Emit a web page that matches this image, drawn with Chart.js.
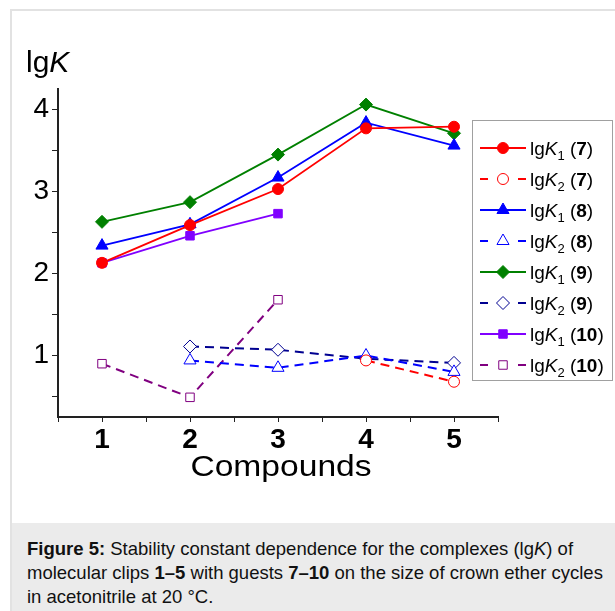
<!DOCTYPE html>
<html>
<head>
<meta charset="utf-8">
<script src="https://cdn.jsdelivr.net/npm/chart.js@4.4.0/dist/chart.umd.min.js"></script>
<style>
  html, body { margin: 0; padding: 0; background: #fff; }
  body { width: 615px; height: 611px; position: relative; overflow: hidden; font-family: 'Liberation Sans', Arial, sans-serif; }
  #frame { position: absolute; left: 10px; top: 9px; width: 640px; height: 640px; border-left: 2px solid #e2e2e2; border-top: 2px solid #e2e2e2; }
  #chartBox { position: absolute; left: 0; top: 0; width: 615px; height: 523px; }
  #caption { position: absolute; left: 12px; top: 523px; width: 603px; height: 88px; background: #ebebeb;
             box-sizing: border-box; padding: 14px 0 0 15px; font-size: 18.5px; line-height: 24px; color: #111; white-space: nowrap; }
</style>
</head>
<body>
<div id="frame"></div>
<div id="chartBox"><canvas id="chart" width="615" height="523"></canvas></div>
<div id="caption"><b>Figure 5:</b> Stability constant dependence for the complexes (lg<i>K</i>) of<br>molecular clips <b>1–5</b> with guests <b>7–10</b> on the size of crown ether cycles<br>in acetonitrile at 20 °C.</div>
<script>
// data (null = no point)
const compounds = [1, 2, 3, 4, 5];
const lgK1_7  = [2.13, 2.59, 3.03, 3.77, 3.79];
const lgK2_7  = [null, null, null, 0.94, 0.68];
const lgK1_8  = [2.34, 2.60, 3.17, 3.84, 3.56];
const lgK2_8  = [null, 0.94, 0.85, 1.00, 0.80];
const lgK1_9  = [2.63, 2.87, 3.45, 4.06, 3.71];
const lgK2_9  = [null, 1.11, 1.07, 0.96, 0.91];
const lgK1_10 = [2.13, 2.46, 2.73, null, null];
const lgK2_10 = [0.90, 0.49, 1.68, null, null];

const xTicks = [0.5, 1, 1.5, 2, 2.5, 3, 3.5, 4, 4.5, 5, 5.5];
const yTicks = [0.5, 1, 1.5, 2, 2.5, 3, 3.5, 4];

const legendSub   = ['1', '2', '1', '2', '1', '2', '1', '2'];
const legendGuest = ['7', '7', '8', '8', '9', '9', '10', '10'];

const FONT = "'Liberation Sans', Arial, sans-serif";

function points(values) {
    const out = [];
    values.forEach((v, i) => { if (v !== null) out.push({ x: compounds[i], y: v }); });
    return out;
}

function makeSet(values, color, solid, style, radius) {
    return {
        data: points(values),
        showLine: true,
        borderColor: color,
        borderWidth: solid ? 1.8 : 2,
        borderDash: solid ? [] : [9, 6],
        pointStyle: style,
        pointRadius: radius,
        pointBackgroundColor: solid ? color : '#fff',
        pointBorderColor: color,
        pointBorderWidth: 1,
        fill: false,
        tension: 0
    };
}

const datasets = [
    makeSet(lgK1_7,  '#ff0000', true,  'circle',   5.5),
    makeSet(lgK2_7,  '#ff0000', false, 'circle',   5.5),
    makeSet(lgK1_8,  '#0000ff', true,  'triangle', 7),
    makeSet(lgK2_8,  '#0000ff', false, 'triangle', 7),
    makeSet(lgK1_9,  '#008000', true,  'rectRot',  6.5),
    makeSet(lgK2_9,  '#000090', false, 'rectRot',  6.5),
    makeSet(lgK1_10, '#8000ff', true,  'rect',     6),
    makeSet(lgK2_10, '#800080', false, 'rect',     6)
];

// axis titles + boxed legend
const decorPlugin = {
    id: 'decor',
    afterDraw(chart) {
        const ctx = chart.ctx;
        ctx.save();
        ctx.fillStyle = '#000';
        ctx.textBaseline = 'alphabetic';

        // y title: lgK
        ctx.font = '30px ' + FONT;
        ctx.fillText('lg', 26, 72);
        let w = ctx.measureText('lg').width;
        ctx.font = 'italic 30px ' + FONT;
        ctx.fillText('K', 26 + w, 72);

        // x title (the source figure is a little stretched sideways)
        ctx.save();
        ctx.translate(281, 476);
        ctx.scale(1.12, 1);
        ctx.font = '30px ' + FONT;
        ctx.textAlign = 'center';
        ctx.fillText('Compounds', 0, 0);
        ctx.restore();

        // legend box
        ctx.strokeStyle = '#a0a0a0';
        ctx.lineWidth = 1;
        ctx.strokeRect(472.5, 120.5, 140, 260);

        datasets.forEach((ds, i) => {
            const y = 148 + i * 31;
            ctx.strokeStyle = ds.borderColor;
            ctx.lineWidth = ds.borderWidth;
            ctx.setLineDash([]);
            ctx.beginPath();
            if (ds.borderDash.length) {
                ctx.moveTo(480, y); ctx.lineTo(488, y);
                ctx.moveTo(518, y); ctx.lineTo(526, y);
            } else {
                ctx.moveTo(480, y); ctx.lineTo(526, y);
            }
            ctx.stroke();

            ctx.fillStyle = ds.pointBackgroundColor;
            ctx.strokeStyle = ds.pointBorderColor;
            ctx.lineWidth = ds.pointBorderWidth;
            Chart.helpers.drawPoint(ctx, { pointStyle: ds.pointStyle, radius: ds.pointRadius, borderWidth: 1, rotation: 0 }, 503, y);

            // label: lgK_n (guest)
            const by = y + 7;
            let x = 530;
            ctx.fillStyle = '#000';
            ctx.font = '19px ' + FONT;
            ctx.fillText('lg', x, by); x += ctx.measureText('lg').width;
            ctx.font = 'italic 19px ' + FONT;
            ctx.fillText('K', x, by); x += ctx.measureText('K').width;
            ctx.font = '13px ' + FONT;
            ctx.fillText(legendSub[i], x, by + 5); x += ctx.measureText(legendSub[i]).width;
            ctx.font = '19px ' + FONT;
            ctx.fillText(' (', x, by); x += ctx.measureText(' (').width;
            ctx.font = 'bold 19px ' + FONT;
            ctx.fillText(legendGuest[i], x, by); x += ctx.measureText(legendGuest[i]).width;
            ctx.font = '19px ' + FONT;
            ctx.fillText(')', x, by);
        });
        ctx.restore();
    }
};

new Chart(document.getElementById('chart'), {
    type: 'scatter',
    data: { datasets: datasets },
    options: {
        responsive: false,
        animation: false,
        events: [],
        layout: { padding: { top: 89, right: 117, left: 0, bottom: 0 } },
        plugins: { legend: { display: false }, tooltip: { enabled: false } },
        scales: {
            x: {
                type: 'linear', min: 0.5, max: 5.5,
                afterBuildTicks: s => { s.ticks = xTicks.map(v => ({ value: v })); },
                afterFit: s => { s.height = 106; },
                ticks: {
                    autoSkip: false, maxRotation: 0, padding: 1, color: '#000',
                    font: { family: FONT, size: 28, weight: 'bold' },
                    callback: v => Number.isInteger(v) ? String(v) : ''
                },
                grid: { drawOnChartArea: false, drawTicks: true, tickLength: 5, color: '#222', lineWidth: 1 },
                border: { display: true, color: '#222', width: 2 }
            },
            y: {
                type: 'linear', min: 0.25, max: 4.25,
                afterBuildTicks: s => { s.ticks = yTicks.map(v => ({ value: v })); },
                afterFit: s => { s.width = 58; },
                ticks: {
                    autoSkip: false, padding: 3, color: '#000',
                    font: { family: FONT, size: 28 },
                    callback: v => Number.isInteger(v) ? String(v) : ''
                },
                grid: { drawOnChartArea: false, drawTicks: true, tickLength: 6, color: '#222', lineWidth: 1 },
                border: { display: true, color: '#222', width: 2 }
            }
        }
    },
    plugins: [decorPlugin]
});
</script>
</body>
</html>
